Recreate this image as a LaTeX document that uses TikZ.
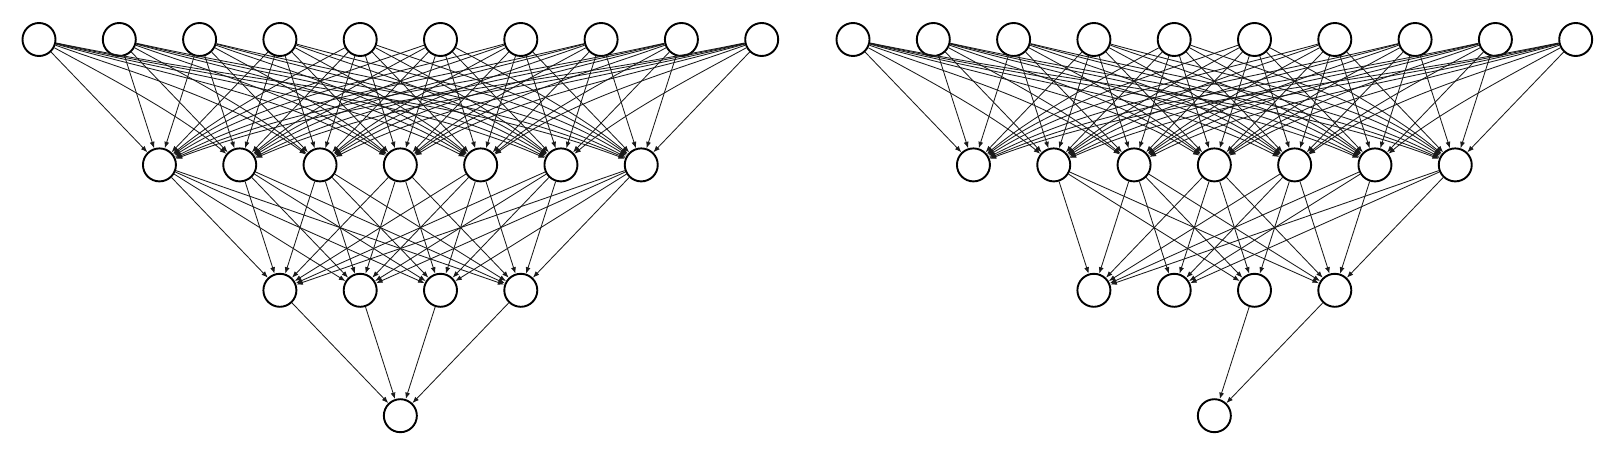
\documentclass[tikz,border=0pt]{standalone}
\usetikzlibrary{arrows.meta}
\begin{document}
\begin{tikzpicture}[x=1pt,y=-1pt,
  neuron/.style={circle,draw=black,line width=1.9pt,fill=white,minimum size=33pt,inner sep=0pt},
  edge/.style={line width=0.85pt,draw=black!90,-{Latex[length=6.5pt,width=5pt]}}]
\useasboundingbox (0,0) rectangle (1598,449);
\def\sp{80.3}
\def\ya{39.5}\def\yb{164.9}\def\yc{290.3}\def\yd{415.7}
\foreach \net/\off in {A/39,B/853}{
  \foreach \i in {0,...,9} \node[neuron] (\net1n\i) at ({\off+\i*\sp},\ya) {};
  \foreach \j in {0,...,6} \node[neuron] (\net2n\j) at ({\off+(1.5+\j)*\sp},\yb) {};
  \foreach \k in {0,...,3} \node[neuron] (\net3n\k) at ({\off+(3+\k)*\sp},\yc) {};
  \node[neuron] (\net4n0) at ({\off+4.5*\sp},\yd) {};
  \foreach \i in {0,...,9}{\foreach \j in {0,...,6}{
    \pgfmathsetmacro\xs{\off+\i*\sp}
    \pgfmathsetmacro\xt{\off+(1.5+\j)*\sp}
    \pgfmathsetmacro\dx{\xt-\xs}
    \pgfmathsetmacro\adx{abs(\dx)}
    \pgfmathsetmacro\m{125.4/\adx}
    \pgfmathsetmacro\w{min(1,max(0,(\adx-120)/200))}
    \pgfmathsetmacro\ma{\m*(1-0.5*\w)+0.1*\w}
    \pgfmathsetmacro\mb{\m*(1+0.8*\w)}
    \pgfmathsetmacro\cax{\xs+0.4*\dx}
    \pgfmathsetmacro\cay{\ya+0.4*\adx*\ma}
    \pgfmathsetmacro\cbx{\xt-0.3*\dx}
    \pgfmathsetmacro\cby{\yb-0.3*\adx*\mb}
    \draw[edge] (\net1n\i) .. controls (\cax,\cay) and (\cbx,\cby) .. (\net2n\j);
  }}
}
% left network: fully connected
\foreach \j in {0,...,6}{\foreach \k in {0,...,3}{\draw[edge] (A2n\j) -- (A3n\k);}}
\foreach \k in {0,...,3}{\draw[edge] (A3n\k) -- (A4n0);}
% right network: pruned
\foreach \j/\k in {1/0,1/2,1/3, 2/0,2/1,2/2,2/3, 3/0,3/1,3/2,3/3, 4/0,4/1,4/2,4/3, 5/0,5/1,5/3, 6/0,6/1,6/3}{\draw[edge] (B2n\j) -- (B3n\k);}
\foreach \k in {2,3}{\draw[edge] (B3n\k) -- (B4n0);}
\end{tikzpicture}
\end{document}
